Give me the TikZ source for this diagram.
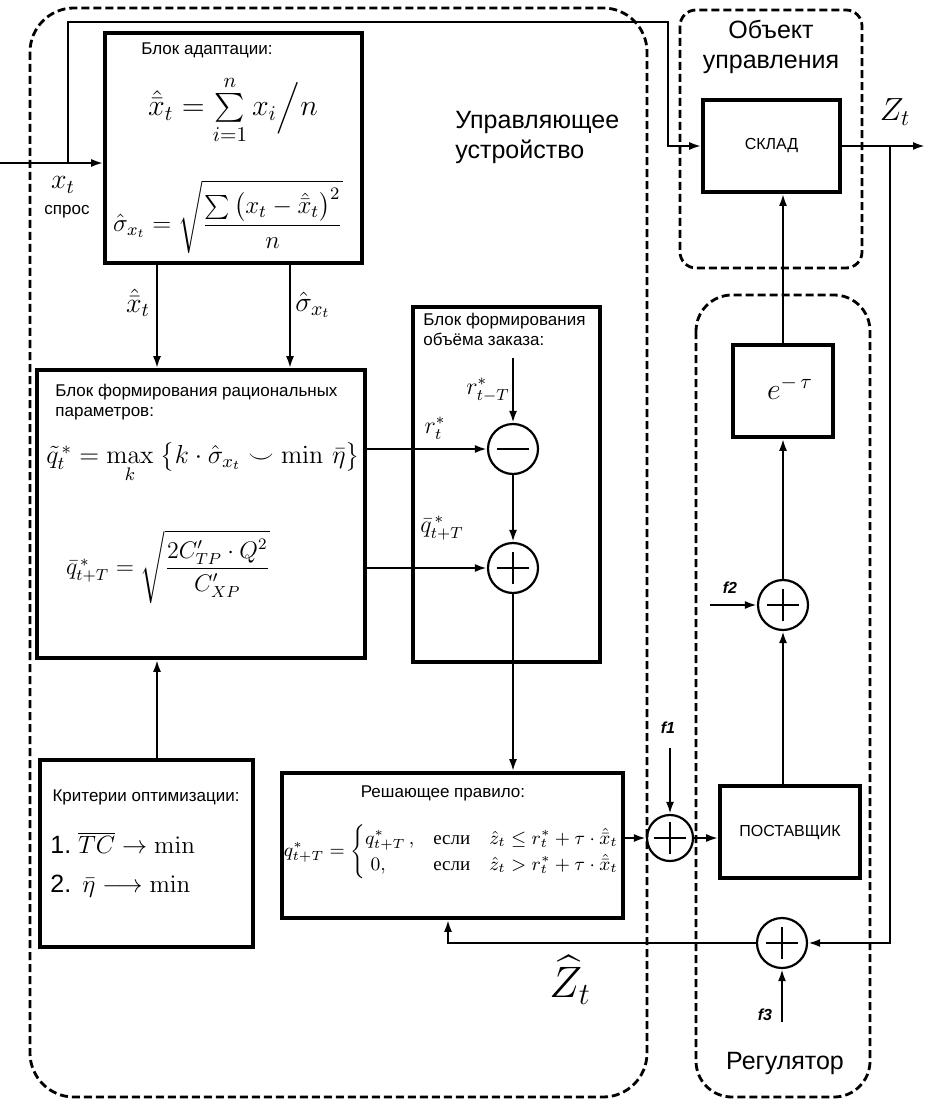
\RequirePackage{fix-cm}
\documentclass[tikz,border=0pt]{standalone}
\usepackage{amsmath}
\usepackage[no-math]{fontspec}
\setmainfont{Liberation Sans}
\newfontfamily\cyrserif{Liberation Serif}
\usetikzlibrary{arrows.meta,positioning,calc}
\tikzset{
  blk/.style={rectangle, draw=black, line width=1.8pt, inner sep=2pt, align=center,
              font=\fontsize{8}{9.5}\selectfont},
  sumc/.style={circle, draw=black, line width=1.1pt, minimum size=25pt, inner sep=0pt},
  sumplus/.style={sumc, path picture={
      \draw[line width=1.1pt] ([xshift=-8pt]path picture bounding box.center) -- ([xshift=8pt]path picture bounding box.center)
        ([yshift=-8pt]path picture bounding box.center) -- ([yshift=8pt]path picture bounding box.center);}},
  summinus/.style={sumc, path picture={
      \draw[line width=1.1pt] ([xshift=-8pt]path picture bounding box.center) -- ([xshift=8pt]path picture bounding box.center);}},
  fl/.style={-{Latex[length=6pt,width=4pt]}, draw=black, line width=1.1pt},
  reg/.style={draw=black, line width=1.4pt, dash pattern=on 4pt off 2pt, rounded corners=22pt},
  ttl/.style={font=\fontsize{8.5}{10}\selectfont, align=left, inner sep=0pt},
  big/.style={font=\fontsize{12.5}{15}\selectfont, align=left, inner sep=0pt},
  mth/.style={font=\fontsize{14}{16}\selectfont, inner sep=0pt},
  lbl/.style={font=\fontsize{12}{14}\selectfont, inner sep=0pt},
  fsig/.style={font=\fontsize{8}{9}\selectfont\bfseries\itshape, inner sep=0pt}
}
\newcommand{\xmean}{\hat{\bar{x}}}
\newcommand{\esli}{\text{\cyrserif если}}

\begin{document}
\begin{tikzpicture}[x=0.5pt, y=-0.5pt]
  \useasboundingbox (0,0) rectangle (933,1101);
  % areas
  \draw[reg] (30,8) rectangle (647,1097);
  \draw[reg, rounded corners=8pt] (680,10) rectangle (862,268);
  \draw[reg, rounded corners=18pt] (696,295) rectangle (870,1097);
  \node[big] (ctl) at (455,137) [anchor=west] {Управляющее\\устройство};
  \node[big, align=center] (obj) at (771,47) {Объект\\управления};
  \node[big] (regl) at (785,1063) {Регулятор};

  % blocks
  \node[blk, minimum width=128.5pt, minimum height=115pt] (adapt) at (233.5,148) {};
  \node[blk, minimum width=164pt, minimum height=144pt] (par) at (201,514) {};
  \node[blk, minimum width=93.5pt, minimum height=177.5pt] (ord) at (506.5,484.5) {};
  \node[blk, minimum width=106.5pt, minimum height=93.5pt] (crit) at (146.5,853.5) {};
  \node[blk, minimum width=170.5pt, minimum height=72.5pt] (rule) at (452.5,845.5) {};
  \node[blk, minimum width=68.5pt, minimum height=46pt] (sklad) at (771.5,146) {СКЛАД};
  \node[blk, minimum width=50pt, minimum height=46pt] (delay) at (783,391) {};
  \node[blk, minimum width=70pt, minimum height=46pt] (supp) at (790,832) {ПОСТАВЩИК};
  \node[summinus] (minus) at (513,449) {};
  \node[sumplus] (plus) at (513,568) {};
  \node[sumplus, minimum size=23pt] (s1) at (670,838) {};
  \node[sumplus] (s2) at (783,605) {};
  \node[sumplus] (s3) at (782,943) {};

  % block texts
  \node[ttl] (adaptT) at (207,50) {Блок адаптации:};
  \node[mth, font=\fontsize{15}{17}\selectfont] (adaptF1) at (233,110) {$\xmean_t = \sum\limits_{i=1}^{n} x_i \Big/ n$};
  \node[mth, font=\fontsize{12.5}{15}\selectfont] (adaptF2) at (228,217) {$\hat\sigma_{x_t} = \sqrt{\dfrac{\sum\left(x_t-\xmean_t\right)^2}{n}}$};
  \node[ttl, anchor=north west] (parT) at (55,384) {Блок формирования рациональных\\ параметров:};
  \node[mth, font=\fontsize{13}{15}\selectfont] (parF1) at (203,462) {$\tilde q_t^{\,*}= \max\limits_k\ \bigl\{k\cdot\hat\sigma_{x_t}\smile\min\,\bar\eta\bigr\}$};
  \node[mth, font=\fontsize{12}{14}\selectfont] (parF2) at (168,567) {$\bar q^{\,*}_{t+T} = \sqrt{\dfrac{2C'_{TP}\cdot Q^2}{C'_{XP}}}$};
  \node[ttl, anchor=north west] (ordT) at (423,313) {Блок формирования\\объёма заказа:};
  \node[ttl] (critT) at (146,797) {Критерии оптимизации:};
  \node[lbl, anchor=west, font=\fontsize{12.5}{15}\selectfont] (critA) at (50,843) {1.\ $\overline{TC}\rightarrow\min$};
  \node[lbl, anchor=west, font=\fontsize{12.5}{15}\selectfont] (critB) at (50,886) {2.\ \,$\bar\eta\longrightarrow\min$};
  \node[ttl] (ruleT) at (443,793) {Решающее правило:};
  \node[mth, font=\fontsize{9.5}{11}\selectfont] (ruleF) at (452,852) {$q^{*}_{t+T}=\begin{cases} q^{*}_{t+T}\,, & \esli\quad \hat z_t\le r^{*}_t+\tau\cdot\xmean_t\\ \;0, & \esli\quad \hat z_t> r^{*}_t+\tau\cdot\xmean_t\end{cases}$};
  \node[lbl, font=\fontsize{15}{17}\selectfont] (dlyF) at (790,388) {$e^{-\,\tau}$};

  % signal labels
  \node[lbl, font=\fontsize{14}{16}\selectfont] (xt) at (63,185) {$x_t$};
  \node[ttl] (spros) at (67,212) {спрос};
  \node[lbl, font=\fontsize{14}{16}\selectfont] (xmL) at (138,303) {$\xmean_t$};
  \node[lbl, font=\fontsize{14}{16}\selectfont] (sgL) at (313,305) {$\hat\sigma_{x_t}$};
  \node[lbl] (rTL) at (488,390) {$r^{*}_{t-T}$};
  \node[lbl] (rL) at (435,428) {$r^{*}_{t}$};
  \node[lbl] (qL) at (442,528) {$\bar q^{\,*}_{t+T}$};
  \node[lbl, font=\fontsize{22}{24}\selectfont] (zhat) at (570,980) {$\widehat{Z}_t$};
  \node[lbl, font=\fontsize{16}{18}\selectfont] (zt) at (895,112) {$Z_t$};
  \node[fsig] (f1L) at (668,728) {f1};
  \node[fsig] (f2L) at (730,588) {f2};
  \node[fsig] (f3L) at (765,1015) {f3};

  % free ends
  \coordinate (xin) at (0,163);
  \coordinate (br) at (68,163);
  \coordinate (ftop) at (668,22);
  \coordinate (cx) at (157,0);
  \coordinate (cs) at (290,0);
  \coordinate (rT) at (513,358);
  \coordinate (f1) at (670,748);
  \coordinate (f2) at (710,605);
  \coordinate (f3) at (782,1022);
  \coordinate (zout) at (925,146);
  \coordinate (zb) at (890,146);
  \coordinate (fb) at (448,0);

  % connectors
  \draw[fl] (xin) -- (xin -| adapt.west);
  \draw[fl] (br) |- (ftop) |- (sklad.west);
  \draw[fl] (adapt.south -| cx) -- (par.north -| cx);
  \draw[fl] (adapt.south -| cs) -- (par.north -| cs);
  \draw[fl] (crit.north -| cx) -- (par.south -| cx);
  \draw[fl] (minus -| par.east) -- (minus.west);
  \draw[fl] (plus -| par.east) -- (plus.west);
  \draw[fl] (rT) -- (minus.north);
  \draw[fl] (minus) -- (plus);
  \draw[fl] (plus) -- (plus |- rule.north);
  \draw[fl] (s1 -| rule.east) -- (s1.west);
  \draw[fl] (f1) -- (s1.north);
  \draw[fl] (s1) -- (s1 -| supp.west);
  \draw[fl] (supp.north -| s2) -- (s2.south);
  \draw[fl] (f2) -- (s2.west);
  \draw[fl] (s2) -- (s2 |- delay.south);
  \draw[fl] (delay.north) -- (delay.north |- sklad.south);
  \draw[fl] (sklad.east) -- (zout);
  \draw[fl] (zb) |- (s3.east);
  \draw[fl] (f3) -- (s3.south);
  \draw[fl] (s3.west) -| (rule.south -| fb);
\end{tikzpicture}
\end{document}
